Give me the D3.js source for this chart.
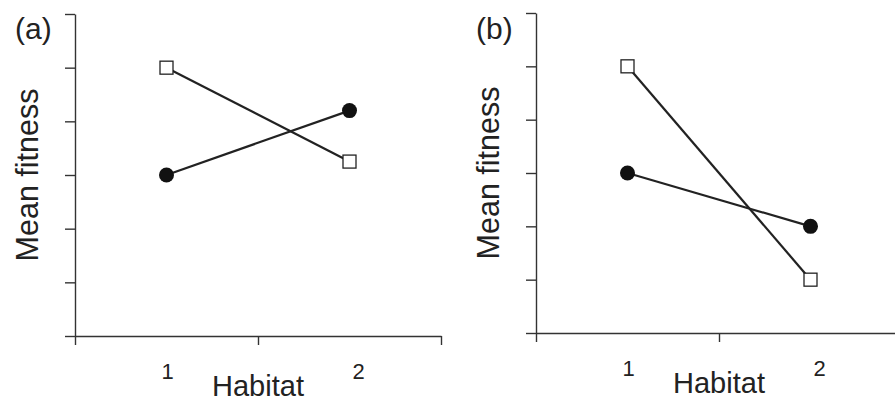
<!DOCTYPE html>
<html>
<head>
<meta charset="utf-8">
<script src="https://cdn.jsdelivr.net/npm/d3@7"></script>
<style>
  html, body { margin: 0; padding: 0; background: #fff; }
  svg { display: block; }
</style>
</head>
<body>
<div id="chart"></div>
<script>
'use strict';

// habitats, as positions on a 0..4 axis (ticks at 0, 2, 4)
var habitats = [1, 3];
var habitatLabels = ['1', '2'];
var yTicks = [0, 1, 2, 3, 4, 5, 6];

// panel (a): crossing reaction norms
var squaresA = [5, 3.25];
var circlesA = [3, 4.2];
// panel (b): both decline, squares more steeply
var squaresB = [5, 1];
var circlesB = [3, 2];

var panels = [
  { tag: '(a)', squares: squaresA, circles: circlesA, left: 75, top: 14, bottom: 336 },
  { tag: '(b)', squares: squaresB, circles: circlesB, left: 536, top: 13, bottom: 333 }
];

var width = 895, height = 403;
var font = '"Liberation Sans", Arial, Helvetica, sans-serif';
var ink = '#222';

var svg = d3.select('#chart').append('svg')
  .attr('width', width)
  .attr('height', height)
  .attr('viewBox', [0, 0, width, height]);

panels.forEach(function (p) {
  var x = d3.scaleLinear().domain([0, 4]).range([p.left, p.left + 366]);
  var y = d3.scaleLinear().domain([0, 6]).range([p.bottom, p.top]);
  var g = svg.append('g');

  // y axis with ticks
  g.append('g')
    .attr('transform', 'translate(' + p.left + ',0)')
    .call(d3.axisLeft(y).tickValues(yTicks).tickFormat('').tickSize(10).tickSizeOuter(0))
    .call(function (a) {
      a.selectAll('path, line').attr('stroke', '#333').attr('stroke-width', 1.4);
    });

  // x axis with ticks
  g.append('g')
    .attr('transform', 'translate(0,' + p.bottom + ')')
    .call(d3.axisBottom(x).tickValues([0, 2, 4]).tickFormat('').tickSize(9).tickSizeOuter(0))
    .call(function (a) {
      a.selectAll('path, line').attr('stroke', '#333').attr('stroke-width', 1.4);
    });

  // habitat labels (the "2" sits a little right of its points)
  g.selectAll('text.hab')
    .data(habitats)
    .join('text')
    .attr('class', 'hab')
    .attr('x', function (d, i) { return x(d) + (i === 1 ? 9 : 1); })
    .attr('y', p.bottom + 43)
    .attr('text-anchor', 'middle')
    .attr('font-family', font)
    .attr('font-size', 22)
    .attr('fill', ink)
    .text(function (d, i) { return habitatLabels[i]; });

  g.append('text')
    .attr('x', x(2))
    .attr('y', p.bottom + 60)
    .attr('text-anchor', 'middle')
    .attr('font-family', font)
    .attr('font-size', 29)
    .attr('fill', ink)
    .text('Habitat');

  g.append('text')
    .attr('transform', 'translate(' + (p.left - 37) + ',' + ((p.top + p.bottom) / 2) + ') rotate(-90)')
    .attr('text-anchor', 'middle')
    .attr('font-family', font)
    .attr('font-size', 30.5)
    .attr('fill', ink)
    .text('Mean fitness');

  g.append('text')
    .attr('x', p.left - 60)
    .attr('y', 39)
    .attr('font-family', font)
    .attr('font-size', 30)
    .attr('fill', ink)
    .text(p.tag);

  var line = d3.line()
    .x(function (d, i) { return x(habitats[i]); })
    .y(function (d) { return y(d); });

  [p.squares, p.circles].forEach(function (s) {
    g.append('path')
      .datum(s)
      .attr('d', line)
      .attr('fill', 'none')
      .attr('stroke', ink)
      .attr('stroke-width', 2.2);
  });

  g.selectAll('circle.pt')
    .data(p.circles)
    .join('circle')
    .attr('class', 'pt')
    .attr('cx', function (d, i) { return x(habitats[i]); })
    .attr('cy', function (d) { return y(d); })
    .attr('r', 7.5)
    .attr('fill', '#111');

  g.selectAll('rect.pt')
    .data(p.squares)
    .join('rect')
    .attr('class', 'pt')
    .attr('x', function (d, i) { return x(habitats[i]) - 6.5; })
    .attr('y', function (d) { return y(d) - 6.5; })
    .attr('width', 13)
    .attr('height', 13)
    .attr('fill', '#fff')
    .attr('stroke', ink)
    .attr('stroke-width', 1.3);
});
</script>
</body>
</html>
